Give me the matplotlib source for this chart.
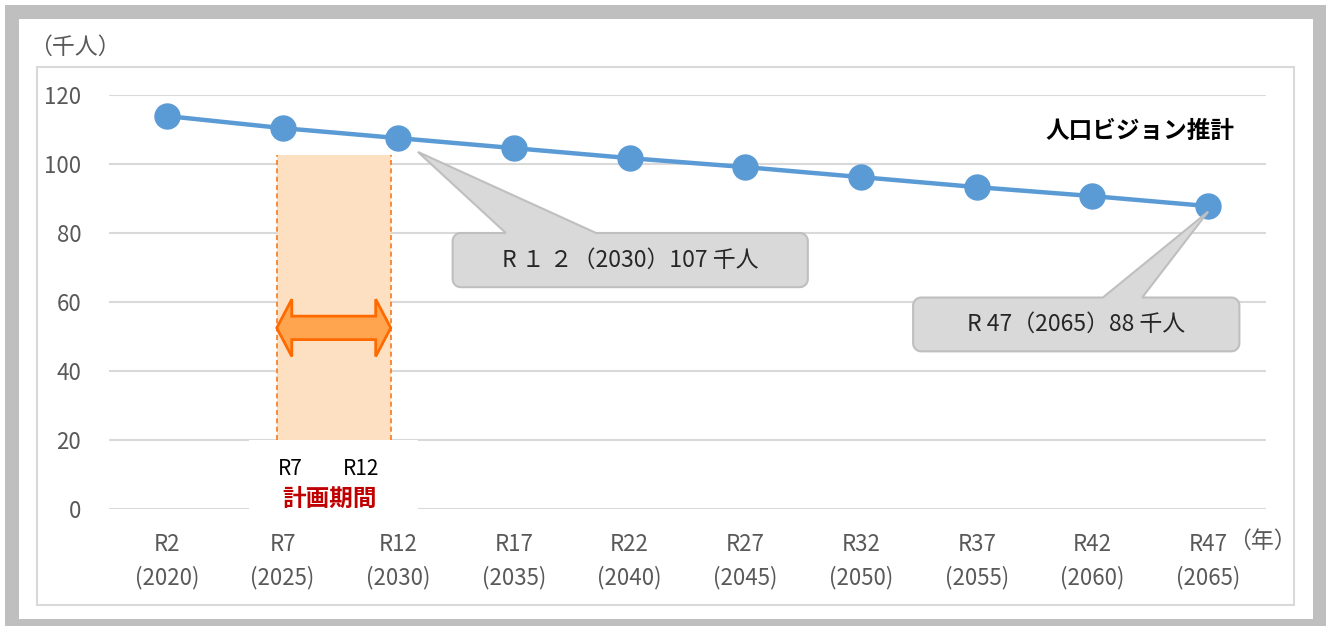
import matplotlib
matplotlib.use("Agg")
import matplotlib.pyplot as plt
from matplotlib.patches import Rectangle, Polygon
import numpy as np

plt.rcParams['font.family'] = ['Noto Sans CJK JP', 'DejaVu Sans']

# ---- data ----
reiwa_labels = ["R2", "R7", "R12", "R17", "R22", "R27", "R32", "R37", "R42", "R47"]
year_labels = ["(2020)", "(2025)", "(2030)", "(2035)", "(2040)",
               "(2045)", "(2050)", "(2055)", "(2060)", "(2065)"]
population = [113.9, 110.4, 107.5, 104.6, 101.7, 99.1, 96.2, 93.3, 90.7, 87.8]
yticks = [0, 20, 40, 60, 80, 100, 120]
series_name = "人口ビジョン推計"
callout1_text = "R １ ２（2030）107 千人"
callout2_text = "R 47（2065）88 千人"
period_labels = ["R7", "R12"]
period_title = "計画期間"

W, H = 1329, 630
fig = plt.figure(figsize=(W / 100, H / 100), dpi=100)
fig.patch.set_facecolor("white")

def px(x, y):
    return (x / W, 1 - y / H)

# outer gray frame and inner panel
fig.patches.append(Rectangle(px(5, 626), 1321 / W, 621 / H, transform=fig.transFigure,
                             facecolor="#BFBFBF", edgecolor="none", zorder=-10))
fig.patches.append(Rectangle(px(19, 619), 1294 / W, 600 / H, transform=fig.transFigure,
                             facecolor="white", edgecolor="none", zorder=-9))
fig.patches.append(Rectangle(px(37, 605), 1257 / W, 538 / H, transform=fig.transFigure,
                             facecolor="none", edgecolor="#D9D9D9", lw=1.5, zorder=-8))

left, right = 109 / W, 1266 / W
bottom, top = 1 - 509 / H, 1 - 95 / H
ax = fig.add_axes([left, bottom, right - left, top - bottom])
ax.set_facecolor("none")
x = np.arange(len(reiwa_labels))
ax.set_xlim(-0.5, len(reiwa_labels) - 0.5)
ax.set_ylim(0, 120)
ax.set_yticks(yticks)
ax.xaxis.remove_overlapping_locs = False
ax.set_xticks(x, labels=reiwa_labels)
ax.set_xticks(x, labels=year_labels, minor=True)
for s in ax.spines.values():
    s.set_visible(False)
ax.tick_params(axis="both", which="both", length=0, labelsize=16, labelcolor="#595959")
ax.tick_params(axis="y", pad=20)
ax.tick_params(axis="x", which="major", pad=17.5)
ax.tick_params(axis="x", which="minor", pad=41)
ax.yaxis.grid(True, color="#D9D9D9", lw=1.5, zorder=0)
ax.set_axisbelow(True)

# planning period shading
x0, x1 = 0.95, 1.935
ax.add_patch(Rectangle((x0, 20), x1 - x0, 102.5 - 20, facecolor="#FDE0C2",
                       edgecolor="none", zorder=1))
for xv in (x0, x1):
    ax.plot([xv, xv], [20, 102.5], color="#F57C1F", lw=1.2, ls=(0, (3, 2)), zorder=2)
# white label area below
ax.add_patch(Rectangle((0.71, -1.2), 2.17 - 0.71, 21.2, facecolor="white",
                       edgecolor="none", zorder=1.5, clip_on=False))

# double arrow
yc, hh, sh, hl = 52.5, 8.3, 3.4, 0.13
arrow = [(x0, yc), (x0 + hl, yc + hh), (x0 + hl, yc + sh), (x1 - hl, yc + sh),
         (x1 - hl, yc + hh), (x1, yc), (x1 - hl, yc - hh), (x1 - hl, yc - sh),
         (x0 + hl, yc - sh), (x0 + hl, yc - hh)]
ax.add_patch(Polygon(arrow, closed=True, facecolor="#FFA54F", edgecolor="#FF6A00",
                     lw=2, zorder=3, joinstyle="miter"))

# main line
ax.plot(x, population, color="#5B9BD5", lw=3.2, marker="o", markersize=18,
        zorder=5, solid_capstyle="round")

# period labels
ax.text(x0 + 0.12, 11.5, period_labels[0], ha="center", va="center", fontsize=15,
        color="black", zorder=6)
ax.text(x1 - 0.26, 11.5, period_labels[1], ha="center", va="center", fontsize=15,
        color="black", zorder=6)
ax.text((x0 + x1) / 2 - 0.04, 3, period_title, ha="center", va="center", fontsize=17,
        color="#C00000", fontweight="bold", zorder=6)

ax.text(9.23, 109.5, series_name, ha="right", va="center", fontsize=17,
        fontweight="bold", color="black", zorder=6)

# callouts
def callout(box, base, tip, text, fs=16.5):
    fig.canvas.draw()
    T = ax.transData
    xl, yb = T.transform((box[0], box[1]))
    xr, yt = T.transform((box[2], box[3]))
    ba = T.transform((base[0], box[3]))[0]
    bb = T.transform((base[1], box[3]))[0]
    tx, ty = T.transform(tip)
    r = 8
    pts = []
    def arc(cx, cy, a0, a1):
        for a in np.linspace(a0, a1, 8):
            pts.append((cx + r * np.cos(a), cy + r * np.sin(a)))
    arc(xl + r, yt - r, np.pi, np.pi / 2)
    pts += [(ba, yt), (tx, ty), (bb, yt)]
    arc(xr - r, yt - r, np.pi / 2, 0)
    arc(xr - r, yb + r, 0, -np.pi / 2)
    arc(xl + r, yb + r, -np.pi / 2, -np.pi)
    poly = Polygon(pts, closed=True, transform=None, facecolor="#D9D9D9",
                   edgecolor="#BFBFBF", lw=1.5, zorder=4)
    fig.patches.append(poly)
    fig.text((xl + xr) / 2 / W, (yb + yt) / 2 / H, text, ha="center", va="center",
             fontsize=fs, color="#262626", zorder=6)

callout((2.47, 64.3, 5.54, 80.0), (2.93, 3.71), (2.17, 103.5), callout1_text)
callout((6.45, 45.7, 9.27, 61.3), (8.09, 8.43), (9.0, 86.2), callout2_text)

fig.text(75 / W, 1 - 47 / H, "（千人）", ha="center", va="center", fontsize=16.5,
         color="#595959")
fig.text(1228 / W, 1 - 541 / H, "（年）", ha="left", va="center", fontsize=16.5,
         color="#595959")

fig.savefig("out.png", dpi=100)
